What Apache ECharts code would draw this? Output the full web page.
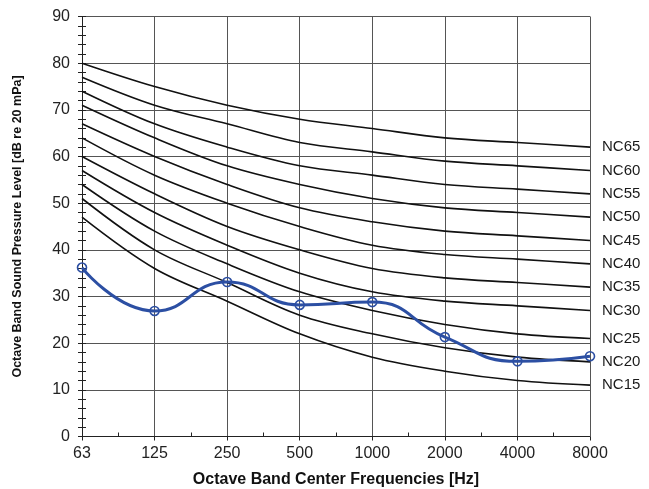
<!DOCTYPE html>
<html>
<head>
<meta charset="utf-8">
<script src="https://cdn.jsdelivr.net/npm/echarts@6/dist/echarts.min.js"></script>
<style>
html,body{margin:0;padding:0;background:#fff;}
#chart{width:649px;height:489px;}
</style>
</head>
<body>
<div id="chart"></div>
<script>
var categories = ['63', '125', '250', '500', '1000', '2000', '4000', '8000'];
var yTicks = [0, 10, 20, 30, 40, 50, 60, 70, 80, 90];
var nc15 = [47, 36, 29, 22, 17, 14, 12, 11];
var nc20 = [51, 40, 33, 26, 22, 19, 17, 16];
var nc25 = [54, 44, 37, 31, 27, 24, 22, 21];
var nc30 = [57, 48, 41, 35, 31, 29, 28, 27];
var nc35 = [60, 52, 45, 40, 36, 34, 33, 32];
var nc40 = [64, 56, 50, 45, 41, 39, 38, 37];
var nc45 = [67, 60, 54, 49, 46, 44, 43, 42];
var nc50 = [71, 64, 58, 54, 51, 49, 48, 47];
var nc55 = [74, 67, 62, 58, 56, 54, 53, 52];
var nc60 = [77, 71, 67, 63, 61, 59, 58, 57];
var nc65 = [80, 75, 71, 68, 66, 64, 63, 62];
var measured = [36.2, 26.9, 33.1, 28.2, 28.8, 21.3, 16.1, 17.2];

var ncCurves = [
  ['NC15', nc15], ['NC20', nc20], ['NC25', nc25], ['NC30', nc30],
  ['NC35', nc35], ['NC40', nc40], ['NC45', nc45], ['NC50', nc50],
  ['NC55', nc55], ['NC60', nc60], ['NC65', nc65]
];

function toPairs(arr) {
  return arr.map(function (v, i) { return [i, v]; });
}

var font = 'Liberation Sans, Arial, sans-serif';
var series = ncCurves.map(function (c) {
  return {
    name: c[0],
    type: 'line',
    data: toPairs(c[1]),
    smooth: 0.35,
    symbol: 'none',
    silent: true,
    lineStyle: { color: '#111', width: 1.6 },
    endLabel: {
      show: true,
      formatter: c[0],
      distance: 12,
      color: '#1a1a1a',
      fontSize: 15,
      fontFamily: font
    },
    z: 2
  };
});
series.push({
  name: 'Measured',
  type: 'line',
  data: toPairs(measured),
  smooth: 0.5,
  symbol: 'circle',
  symbolSize: 9,
  lineStyle: { color: '#2C4FA3', width: 3 },
  itemStyle: { color: 'rgba(0,0,0,0)', borderColor: '#2C4FA3', borderWidth: 1.6 },
  z: 5
});

var chart = echarts.init(document.getElementById('chart'), null, { renderer: 'canvas' });
chart.setOption({
  animation: false,
  backgroundColor: '#fff',
  grid: { left: 82, right: 59, top: 16.5, bottom: 52.5, containLabel: false, outerBoundsMode: 'none' },
  xAxis: [{
    type: 'value',
    min: 0, max: categories.length - 1, interval: 1,
    name: 'Octave Band Center Frequencies [Hz]',
    nameLocation: 'middle',
    nameGap: 35,
    nameTextStyle: { fontSize: 16, fontWeight: 'bold', color: '#111', fontFamily: font },
    axisLine: { onZero: false, lineStyle: { color: '#222', width: 1 } },
    axisTick: { show: true, length: 4, lineStyle: { color: '#222' } },
    axisLabel: {
      formatter: function (v) { return categories[Math.round(v)]; },
      fontSize: 16, color: '#222', margin: 9, fontFamily: font
    },
    splitLine: { show: true, lineStyle: { color: '#555', width: 1 } }
  }, {
    type: 'value',
    position: 'bottom',
    min: 0, max: categories.length - 1, interval: 1,
    axisLine: { show: false, onZero: false },
    axisTick: { show: false, inside: true },
    minorTick: { show: true, splitNumber: 2, length: 4, lineStyle: { color: '#222' } },
    axisLabel: { show: false },
    splitLine: { show: false }
  }],
  yAxis: [{
    type: 'value',
    min: yTicks[0], max: yTicks[yTicks.length - 1], interval: 10,
    name: 'Octave Band Sound Pressure Level [dB re 20 mPa]',
    nameLocation: 'middle',
    nameGap: 58,
    nameTextStyle: { fontSize: 12.5, fontWeight: 'bold', color: '#111', fontFamily: font },
    axisLine: { show: true, onZero: false, lineStyle: { color: '#222', width: 1 } },
    axisTick: { show: true, length: 4, lineStyle: { color: '#222' } },
    minorTick: { show: true, splitNumber: 5, length: 4, lineStyle: { color: '#222' } },
    axisLabel: { fontSize: 16, color: '#222', margin: 12, fontFamily: font },
    splitLine: { show: true, lineStyle: { color: '#555', width: 1 } }
  }, {
    type: 'value',
    position: 'left',
    min: yTicks[0], max: yTicks[yTicks.length - 1], interval: 10,
    axisLine: { show: false, onZero: false },
    axisTick: { show: true, inside: true, length: 4, lineStyle: { color: '#222' } },
    minorTick: { show: true, splitNumber: 5, length: 4, lineStyle: { color: '#222' } },
    axisLabel: { show: false },
    splitLine: { show: false }
  }],
  series: series
});
</script>
</body>
</html>
